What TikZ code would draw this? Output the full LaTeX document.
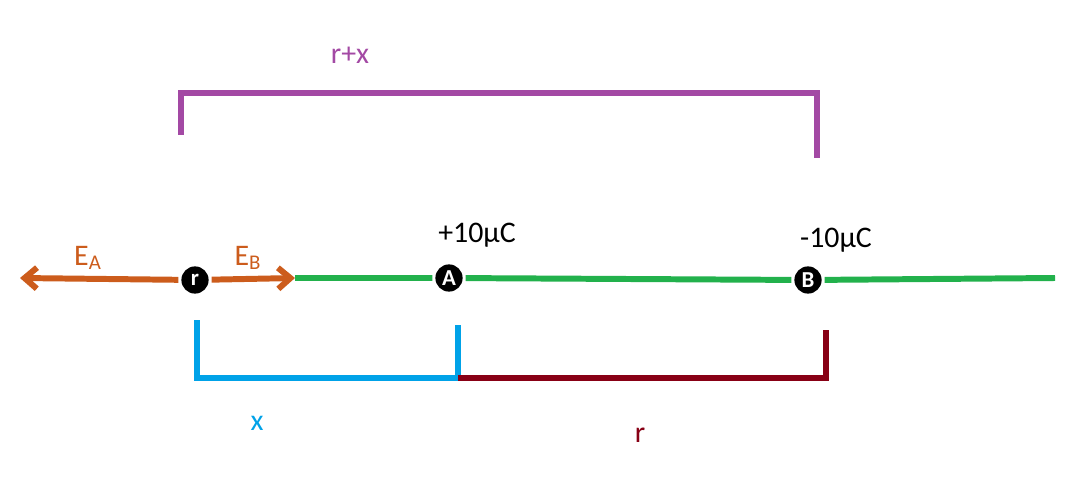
\documentclass[tikz,border=0pt]{standalone}
\usepackage{fontspec}
\setmainfont{Carlito}
\usetikzlibrary{arrows.meta}
\definecolor{orangeE}{RGB}{204,92,28}
\definecolor{greenL}{RGB}{34,177,76}
\definecolor{purpleB}{RGB}{163,73,164}
\definecolor{blueB}{RGB}{0,162,232}
\definecolor{redB}{RGB}{136,0,21}
\tikzset{
    charge/.style={circle, fill=black, text=white, minimum size=15.5pt, inner sep=0pt, font=\bfseries\fontsize{13}{13}\selectfont},
    lbl/.style={font=\fontsize{17}{17}\selectfont}
}
\begin{document}
\begin{tikzpicture}[x=0.02cm, y=-0.02cm, line width=3.4pt]
    \useasboundingbox (0,0) rectangle (1091,486);

        % Draw the charges
        \node[charge] at (195, 280) (r) {r};
        \node[charge] at (449, 278) (A) {A};
        \node[charge] at (808, 280) (B) {B};
        \coordinate (ea) at (20, 278);
        \coordinate (eb) at (295, 278);
        \coordinate (end) at (1055, 278);

        % Field line and vectors
        \draw[greenL] (eb) -- (A) -- (B) -- (end);
        \draw[orangeE, -{Straight Barb[length=7pt, width=12pt]}] (r) -- (ea);
        \draw[orangeE, -{Straight Barb[length=7pt, width=12pt]}] (r) -- (eb);
        \node[lbl, text=orangeE] at (88, 258) (EA) {E\textsubscript{A}};
        \node[lbl, text=orangeE] at (248, 258) (EB) {E\textsubscript{B}};
        \node[lbl] at (477, 235) (qA) {+10µC};
        \node[lbl] at (836, 240) (qB) {-10µC};

        % Brackets
        \draw[purpleB] (181, 135) -- (181, 93) -- (817, 93) -- (817, 158);
        \node[lbl, text=purpleB] at (350, 55) (rx) {r+x};
        \draw[blueB] (197, 320) -- (197, 378) -- (458, 378) -- (458, 325);
        \node[lbl, text=blueB] at (257, 423) (x) {x};
        \draw[redB] (458, 378) -- (826, 378) -- (826, 330);
        \node[lbl, text=redB] at (640, 435) (rr) {r};
\end{tikzpicture}
\end{document}
